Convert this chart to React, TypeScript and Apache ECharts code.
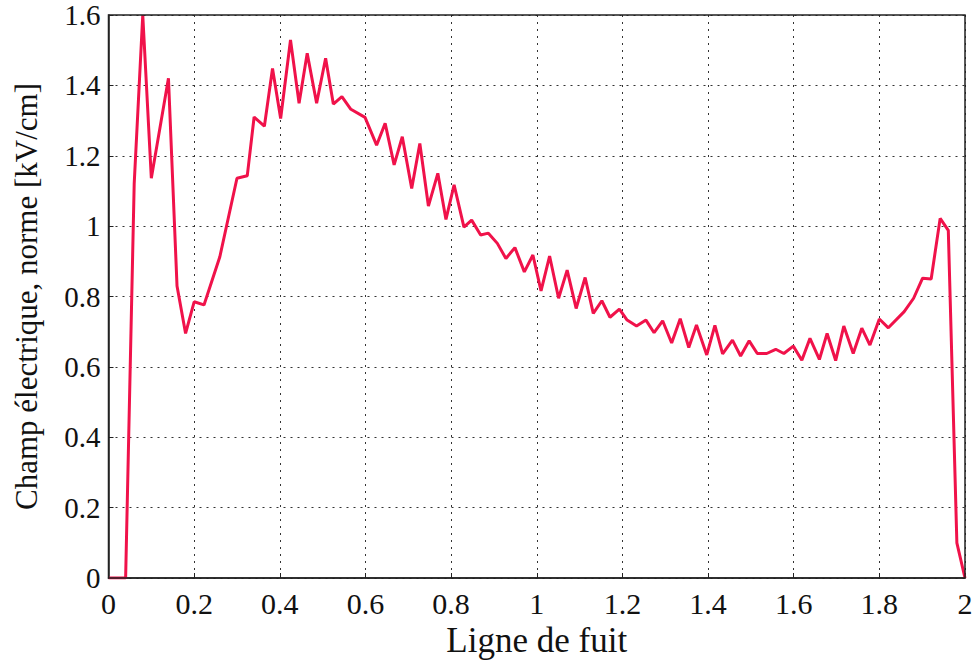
import React, { useEffect, useRef } from "react";
import * as echarts from "echarts";

const xValues = [
  0, 0.04, 0.06, 0.08, 0.1, 0.14, 0.16, 0.18, 0.2, 0.223, 0.26, 0.3, 0.324, 0.34,
  0.364, 0.383, 0.402, 0.425, 0.445, 0.464, 0.486, 0.507, 0.525, 0.545, 0.566,
  0.599, 0.626, 0.646, 0.667, 0.686, 0.708, 0.727, 0.747, 0.769, 0.788, 0.807,
  0.83, 0.848, 0.869, 0.887, 0.908, 0.928, 0.949, 0.971, 0.991, 1.01, 1.03,
  1.051, 1.071, 1.092, 1.113, 1.132, 1.152, 1.171, 1.193, 1.211, 1.233, 1.255,
  1.274, 1.294, 1.315, 1.335, 1.355, 1.373, 1.397, 1.416, 1.434, 1.457, 1.476,
  1.496, 1.515, 1.537, 1.558, 1.577, 1.599, 1.619, 1.638, 1.66, 1.678, 1.698,
  1.717, 1.739, 1.759, 1.778, 1.8, 1.821, 1.858, 1.88, 1.901, 1.921, 1.942,
  1.961, 1.981, 2.0,
];

const fieldValues = [
  0, 0, 1.12, 1.6, 1.136, 1.42, 0.83, 0.695, 0.785, 0.776, 0.913, 1.136, 1.143,
  1.31, 1.284, 1.448, 1.306, 1.529, 1.349, 1.491, 1.349, 1.477, 1.347, 1.368,
  1.332, 1.309, 1.23, 1.292, 1.174, 1.254, 1.107, 1.235, 1.057, 1.15, 1.019,
  1.117, 0.997, 1.017, 0.975, 0.98, 0.951, 0.908, 0.939, 0.87, 0.918, 0.816,
  0.915, 0.795, 0.875, 0.766, 0.854, 0.752, 0.788, 0.741, 0.764, 0.733, 0.716,
  0.733, 0.697, 0.731, 0.668, 0.737, 0.655, 0.719, 0.634, 0.718, 0.637, 0.676,
  0.631, 0.674, 0.638, 0.638, 0.65, 0.638, 0.659, 0.619, 0.681, 0.621, 0.695,
  0.618, 0.716, 0.638, 0.71, 0.662, 0.736, 0.711, 0.757, 0.795, 0.852, 0.85,
  1.022, 0.988, 0.1, 0,
];

const xAxisTitle = "Ligne de fuit";
const yAxisTitle = "Champ électrique, norme [kV/cm]";

export default function App() {
  const ref = useRef<HTMLDivElement>(null);
  useEffect(() => {
    if (!ref.current) return;
    const chart = echarts.init(ref.current, undefined, { renderer: "svg" });
    const font = "'Liberation Serif', 'DejaVu Serif', serif";
    const data = xValues.map((x, i) => [x, fieldValues[i]]);
    chart.setOption({
      animation: false,
      backgroundColor: "#ffffff",
      grid: { left: 108.5, right: 13, top: 15, bottom: 86, containLabel: false },
      xAxis: {
        type: "value",
        min: 0,
        max: 2,
        interval: 0.2,
        name: xAxisTitle,
        nameLocation: "middle",
        nameGap: 41,
        nameTextStyle: { fontFamily: font, fontSize: 35, color: "#111" },
        axisLine: { show: true, lineStyle: { color: "#222", width: 1.5 } },
        axisTick: { show: true, inside: true, length: 5, lineStyle: { color: "#222" } },
        axisLabel: { fontFamily: font, fontSize: 30, color: "#111", margin: 10 },
        splitLine: { show: true, lineStyle: { color: "#333", type: [2, 5], width: 1 } },
      },
      yAxis: {
        type: "value",
        min: 0,
        max: 1.6,
        interval: 0.2,
        name: yAxisTitle,
        nameLocation: "middle",
        nameGap: 67,
        nameTextStyle: { fontFamily: font, fontSize: 31, color: "#111" },
        axisLine: { show: true, lineStyle: { color: "#222", width: 1.5 } },
        axisTick: { show: true, inside: true, length: 5, lineStyle: { color: "#222" } },
        axisLabel: {
          fontFamily: font,
          fontSize: 29,
          lineHeight: 24,
          color: "#111",
          margin: 8,
        },
        splitLine: { show: true, lineStyle: { color: "#333", type: [2, 5], width: 1 } },
      },
      graphic: [
        {
          type: "rect",
          shape: { x: 108.5, y: 15, width: 856.5, height: 563 },
          style: { fill: "none", stroke: "#222", lineWidth: 1.5 },
          silent: true,
          z: 10,
        },
      ],
      series: [
        {
          type: "line",
          data,
          showSymbol: false,
          symbol: "none",
          lineStyle: { color: "#f0124a", width: 3 },
          clip: true,
        },
      ],
    });
    return () => chart.dispose();
  }, []);
  return (
    <div
      ref={ref}
      style={{ position: "absolute", left: 0, top: 0, width: 978, height: 664 }}
    />
  );
}
